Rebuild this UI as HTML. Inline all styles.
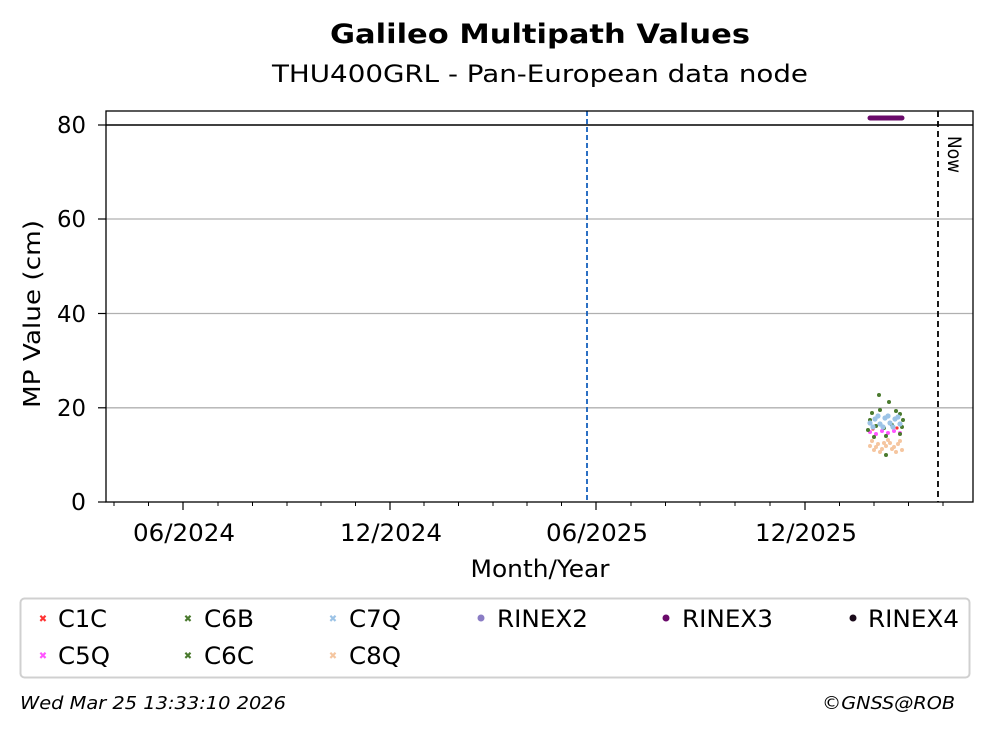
<!DOCTYPE html>
<html><head><meta charset="utf-8"><style>
html,body{margin:0;padding:0;background:#fff}
svg{display:block;font-family:"DejaVu Sans","Liberation Sans",sans-serif}
</style></head><body>
<svg width="993" height="734" viewBox="0 0 993 734" xmlns="http://www.w3.org/2000/svg">
<rect width="993" height="734" fill="#fff"/>
<text x="540" y="43" font-size="27" font-weight="bold" text-anchor="middle" textLength="420" lengthAdjust="spacingAndGlyphs">Galileo Multipath Values</text>
<text x="540" y="82" font-size="24" text-anchor="middle" textLength="536" lengthAdjust="spacingAndGlyphs">THU400GRL - Pan-European data node</text>
<g stroke="#b0b0b0" stroke-width="1.3">
<line x1="106" y1="219" x2="973" y2="219"/>
<line x1="106" y1="313.5" x2="973" y2="313.5"/>
<line x1="106" y1="407.8" x2="973" y2="407.8"/>
</g>
<line x1="106" y1="125" x2="973" y2="125" stroke="#000" stroke-width="1.5"/>
<line x1="587" y1="111" x2="587" y2="502" stroke="#1560bd" stroke-width="1.8" stroke-dasharray="5,3"/>
<line x1="938" y1="111" x2="938" y2="502" stroke="#000" stroke-width="1.8" stroke-dasharray="6,4"/>
<text transform="translate(948,136) rotate(90)" font-size="19" textLength="37" lengthAdjust="spacingAndGlyphs">Now</text>
<line x1="870" y1="118" x2="902" y2="118" stroke="#6a0a6a" stroke-width="5" stroke-linecap="round"/>
<g fill="#f5c6a0">
<circle cx="870" cy="446" r="2"/><circle cx="874" cy="450" r="2"/><circle cx="878" cy="444" r="2"/><circle cx="882" cy="449" r="2"/><circle cx="886" cy="446" r="2"/><circle cx="890" cy="443" r="2"/><circle cx="894" cy="447" r="2"/><circle cx="898" cy="444" r="2"/><circle cx="902" cy="450" r="2"/><circle cx="872" cy="441" r="2"/><circle cx="880" cy="452" r="2"/><circle cx="888" cy="440" r="2"/><circle cx="896" cy="452" r="2"/><circle cx="876" cy="447" r="2"/><circle cx="884" cy="443" r="2"/><circle cx="892" cy="449" r="2"/><circle cx="900" cy="441" r="2"/>
</g>
<g fill="#ff55ff">
<circle cx="870" cy="432" r="2"/><circle cx="876" cy="434" r="2"/><circle cx="882" cy="431" r="2"/><circle cx="888" cy="433" r="2"/><circle cx="894" cy="431" r="2"/><circle cx="900" cy="433" r="2"/>
</g>
<g fill="#ff3333"><circle cx="873" cy="429" r="1.6"/><circle cx="897" cy="428" r="1.6"/></g>
<g fill="#4a7a2e">
<circle cx="879" cy="395" r="2"/><circle cx="889" cy="402" r="2"/><circle cx="872" cy="413" r="2"/><circle cx="896" cy="411" r="2"/><circle cx="900" cy="414" r="2"/><circle cx="870" cy="420" r="2"/><circle cx="876" cy="426" r="2"/><circle cx="884" cy="428" r="2"/><circle cx="892" cy="425" r="2"/><circle cx="902" cy="427" r="2"/><circle cx="874" cy="437" r="2"/><circle cx="886" cy="436" r="2"/><circle cx="900" cy="434" r="2"/><circle cx="868" cy="430" r="2"/><circle cx="886" cy="455" r="2"/><circle cx="880" cy="410" r="2"/><circle cx="903" cy="420" r="2"/>
</g>
<g fill="#9cc3e6">
<circle cx="870" cy="423" r="2.6"/><circle cx="875" cy="419" r="2.6"/><circle cx="880" cy="424" r="2.6"/><circle cx="885" cy="418" r="2.6"/><circle cx="890" cy="423" r="2.6"/><circle cx="895" cy="419" r="2.6"/><circle cx="900" cy="424" r="2.6"/><circle cx="873" cy="427" r="2.6"/><circle cx="883" cy="427" r="2.6"/><circle cx="893" cy="427" r="2.6"/><circle cx="878" cy="416" r="2.6"/><circle cx="888" cy="416" r="2.6"/><circle cx="898" cy="417" r="2.6"/>
</g>
<rect x="106" y="111" width="867" height="391" fill="none" stroke="#000" stroke-width="1.3"/>
<g stroke="#000" stroke-width="1.2">
<line x1="106" y1="125" x2="98" y2="125"/><line x1="106" y1="219" x2="98" y2="219"/><line x1="106" y1="313.5" x2="98" y2="313.5"/><line x1="106" y1="407.8" x2="98" y2="407.8"/><line x1="106" y1="502" x2="98" y2="502"/>
<line x1="183" y1="502" x2="183" y2="510"/><line x1="390" y1="502" x2="390" y2="510"/><line x1="596" y1="502" x2="596" y2="510"/><line x1="805" y1="502" x2="805" y2="510"/>
</g>
<g stroke="#000" stroke-width="1">
<line x1="114" y1="502" x2="114" y2="506"/><line x1="148.5" y1="502" x2="148.5" y2="506"/><line x1="218" y1="502" x2="218" y2="506"/><line x1="252.5" y1="502" x2="252.5" y2="506"/><line x1="287" y1="502" x2="287" y2="506"/><line x1="321" y1="502" x2="321" y2="506"/><line x1="355.5" y1="502" x2="355.5" y2="506"/><line x1="424" y1="502" x2="424" y2="506"/><line x1="458.5" y1="502" x2="458.5" y2="506"/><line x1="493" y1="502" x2="493" y2="506"/><line x1="527" y1="502" x2="527" y2="506"/><line x1="561.5" y1="502" x2="561.5" y2="506"/><line x1="631" y1="502" x2="631" y2="506"/><line x1="665.5" y1="502" x2="665.5" y2="506"/><line x1="700" y1="502" x2="700" y2="506"/><line x1="735" y1="502" x2="735" y2="506"/><line x1="770" y1="502" x2="770" y2="506"/><line x1="839.5" y1="502" x2="839.5" y2="506"/><line x1="874" y1="502" x2="874" y2="506"/><line x1="908.5" y1="502" x2="908.5" y2="506"/><line x1="943" y1="502" x2="943" y2="506"/>
</g>
<g font-size="23" text-anchor="end">
<text x="86" y="133" textLength="29" lengthAdjust="spacingAndGlyphs">80</text>
<text x="86" y="227" textLength="29" lengthAdjust="spacingAndGlyphs">60</text>
<text x="86" y="322" textLength="29" lengthAdjust="spacingAndGlyphs">40</text>
<text x="86" y="416" textLength="29" lengthAdjust="spacingAndGlyphs">20</text>
<text x="86" y="510" textLength="15" lengthAdjust="spacingAndGlyphs">0</text>
</g>
<g font-size="24" text-anchor="middle">
<text x="184" y="541" textLength="102" lengthAdjust="spacingAndGlyphs">06/2024</text>
<text x="391" y="541" textLength="102" lengthAdjust="spacingAndGlyphs">12/2024</text>
<text x="597" y="541" textLength="102" lengthAdjust="spacingAndGlyphs">06/2025</text>
<text x="806" y="541" textLength="102" lengthAdjust="spacingAndGlyphs">12/2025</text>
<text x="540" y="577" textLength="139" lengthAdjust="spacingAndGlyphs">Month/Year</text>
</g>
<text transform="translate(40,314) rotate(-90)" font-size="23" text-anchor="middle" textLength="188" lengthAdjust="spacingAndGlyphs">MP Value (cm)</text>
<rect x="20.5" y="598.5" width="949" height="79" rx="4" fill="#fff" stroke="#d0d0d0" stroke-width="2"/>
<g font-size="24">
<text x="58" y="627" textLength="49" lengthAdjust="spacingAndGlyphs">C1C</text>
<text x="204" y="627" textLength="50" lengthAdjust="spacingAndGlyphs">C6B</text>
<text x="349" y="627" textLength="52" lengthAdjust="spacingAndGlyphs">C7Q</text>
<text x="497" y="627" textLength="91" lengthAdjust="spacingAndGlyphs">RINEX2</text>
<text x="682" y="627" textLength="91" lengthAdjust="spacingAndGlyphs">RINEX3</text>
<text x="868" y="627" textLength="91" lengthAdjust="spacingAndGlyphs">RINEX4</text>
<text x="58" y="664" textLength="52" lengthAdjust="spacingAndGlyphs">C5Q</text>
<text x="204" y="664" textLength="50" lengthAdjust="spacingAndGlyphs">C6C</text>
<text x="349" y="664" textLength="52" lengthAdjust="spacingAndGlyphs">C8Q</text>
</g>
<g font-size="10" text-anchor="middle">
<text x="43" y="622" fill="#ff3333">✖</text><text x="188" y="622" fill="#4a7a2e">✖</text><text x="333" y="622" fill="#9cc3e6">✖</text>
<text x="43" y="659" fill="#ff55ff">✖</text><text x="188" y="659" fill="#4a7a2e">✖</text><text x="333" y="659" fill="#f5c6a0">✖</text>
</g>
<circle cx="481" cy="618" r="3.5" fill="#8a7cc4"/><circle cx="666" cy="618" r="3.5" fill="#6a0a6a"/><circle cx="853" cy="618" r="3.5" fill="#1a0a1a"/>
<text x="20" y="709" font-size="18" font-style="italic" textLength="266" lengthAdjust="spacingAndGlyphs">Wed Mar 25 13:33:10 2026</text>
<text x="955" y="709" font-size="18" font-style="italic" text-anchor="end" textLength="133" lengthAdjust="spacingAndGlyphs">©GNSS@ROB</text>
</svg>
</body></html>
